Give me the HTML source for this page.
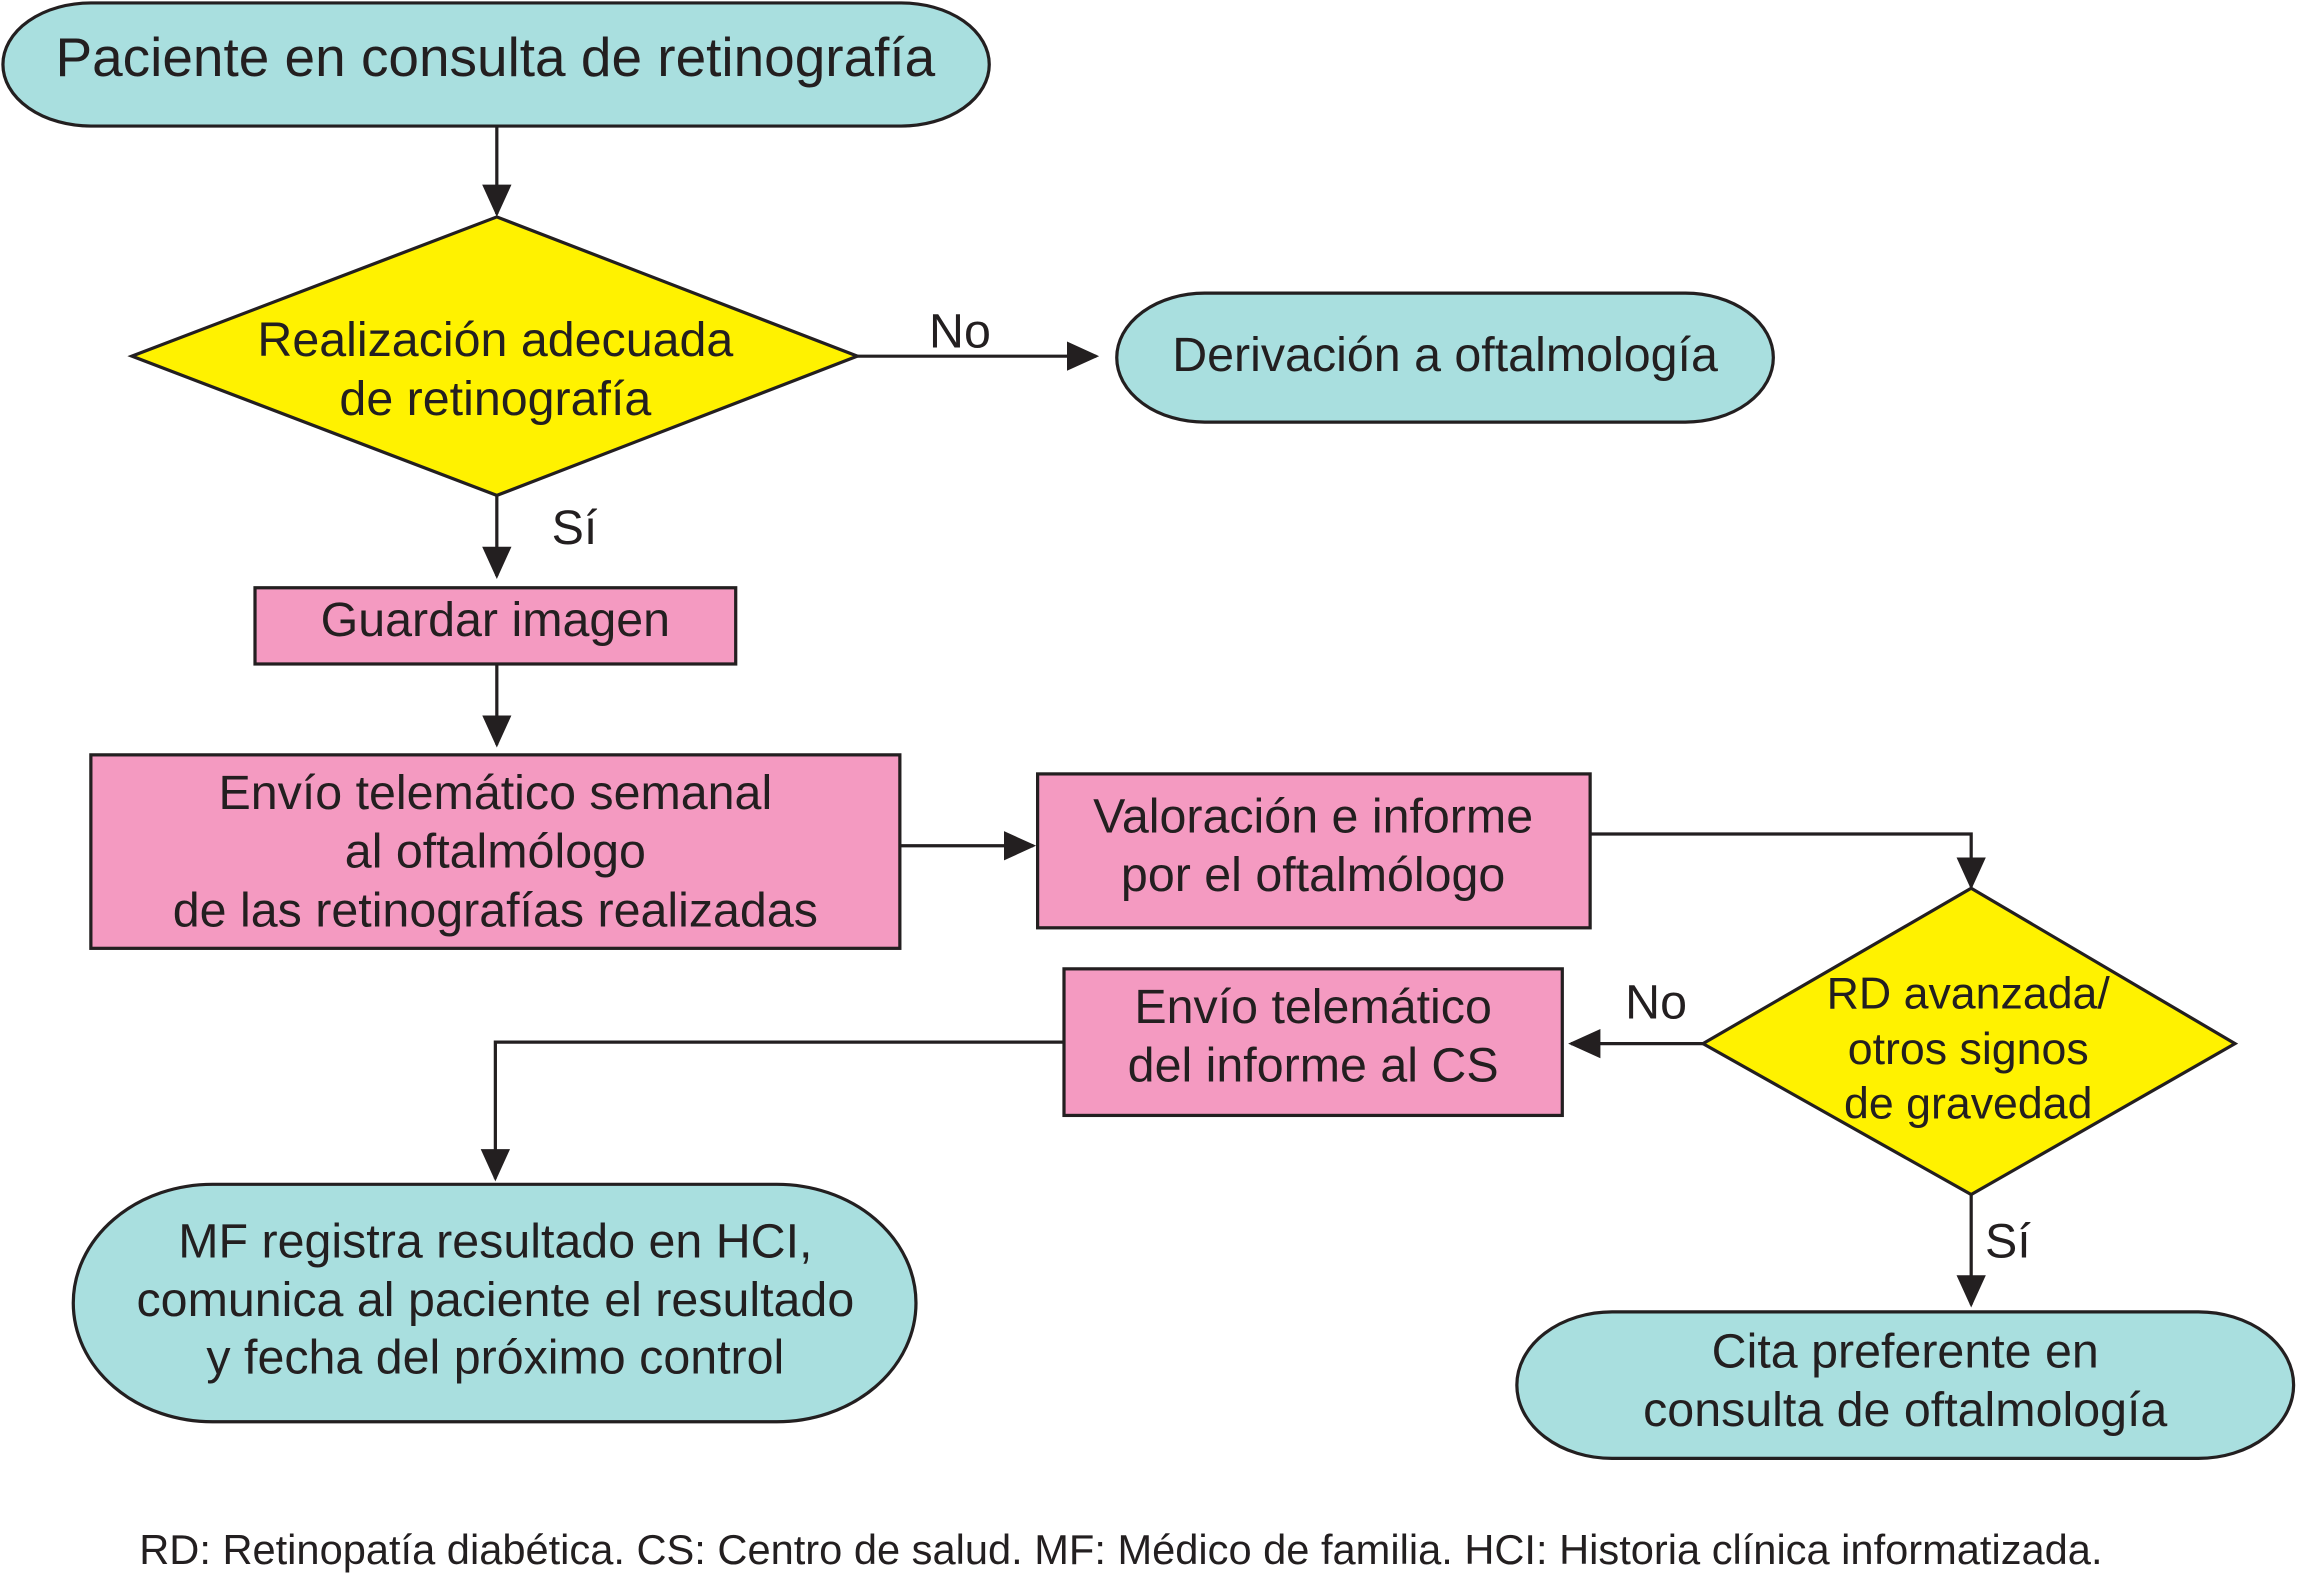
<!DOCTYPE html>
<html><head><meta charset="utf-8"><style>
html,body{margin:0;padding:0;background:#fff;}
svg{display:block;}
text{font-family:"Liberation Sans",Arial,sans-serif;fill:#231f20;}
</style></head><body>
<svg width="2298" height="1583" viewBox="0 0 1568 1080" preserveAspectRatio="none" xmlns="http://www.w3.org/2000/svg">
<defs>
<marker id="b" markerWidth="22" markerHeight="22" refX="20" refY="11" orient="auto" markerUnits="userSpaceOnUse"><path d="M0,1 L22,11 L0,21 z" fill="#231f20"/></marker></defs>
<g stroke="#231f20" stroke-width="2.2" fill="none">
<line x1="339" y1="86" x2="339" y2="146" marker-end="url(#b)"/>
<line x1="585" y1="243" x2="748" y2="243" marker-end="url(#b)"/>
<line x1="339" y1="338" x2="339" y2="393" marker-end="url(#b)"/>
<line x1="339" y1="453" x2="339" y2="508" marker-end="url(#b)"/>
<line x1="614" y1="577" x2="705" y2="577" marker-end="url(#b)"/>
<polyline points="1085,569 1345,569 1345,605" marker-end="url(#b)"/>
<line x1="1162" y1="712" x2="1072" y2="712" marker-end="url(#b)"/>
<polyline points="726,711 338,711 338,804" marker-end="url(#b)"/>
<line x1="1345" y1="815" x2="1345" y2="890" marker-end="url(#b)"/>
</g>
<g stroke="#231f20" stroke-width="2.2">
<rect x="2" y="2" width="673" height="84" rx="60" ry="42" fill="#a9dfdf"/>
<polygon points="90,243 339,148 585,243 339,338" fill="#fff200"/>
<rect x="762" y="200" width="448" height="88" rx="60" ry="44" fill="#a9dfdf"/>
<rect x="174" y="401" width="328" height="52" fill="#f49ac1"/>
<rect x="62" y="515" width="552" height="132" fill="#f49ac1"/>
<rect x="708" y="528" width="377" height="105" fill="#f49ac1"/>
<polygon points="1162,712 1345,606 1525,712 1345,815" fill="#fff200"/>
<rect x="726" y="661" width="340" height="100" fill="#f49ac1"/>
<rect x="50" y="808" width="575" height="162" rx="95" ry="81" fill="#a9dfdf"/>
<rect x="1035" y="895" width="530" height="100" rx="65" ry="50" fill="#a9dfdf"/>
</g>
<g text-anchor="middle" font-size="33">
<text x="338" y="52" font-size="37.5">Paciente en consulta de retinografía</text>
<text x="338" y="243">Realización adecuada</text>
<text x="338" y="283">de retinografía</text>
<text x="655" y="237">No</text>
<text x="986" y="253">Derivación a oftalmología</text>
<text x="392" y="371">Sí</text>
<text x="338" y="434">Guardar imagen</text>
<text x="338" y="552">Envío telemático semanal</text>
<text x="338" y="592">al oftalmólogo</text>
<text x="338" y="632">de las retinografías realizadas</text>
<text x="896" y="568">Valoración e informe</text>
<text x="896" y="608">por el oftalmólogo</text>
<text x="1130" y="695">No</text>
<text x="896" y="698">Envío telemático</text>
<text x="896" y="738">del informe al CS</text>
<text x="1343" y="688" font-size="30.5">RD avanzada/</text>
<text x="1343" y="726" font-size="30.5">otros signos</text>
<text x="1343" y="763" font-size="30.5">de gravedad</text>
<text x="1370" y="858">Sí</text>
<text x="338" y="858">MF registra resultado en HCI,</text>
<text x="338" y="898">comunica al paciente el resultado</text>
<text x="338" y="937">y fecha del próximo control</text>
<text x="1300" y="933">Cita preferente en</text>
<text x="1300" y="973">consulta de oftalmología</text>
</g>
<text x="95" y="1067" font-size="28.4">RD: Retinopatía diabética. CS: Centro de salud. MF: Médico de familia. HCI: Historia clínica informatizada.</text>
</svg>
</body></html>
